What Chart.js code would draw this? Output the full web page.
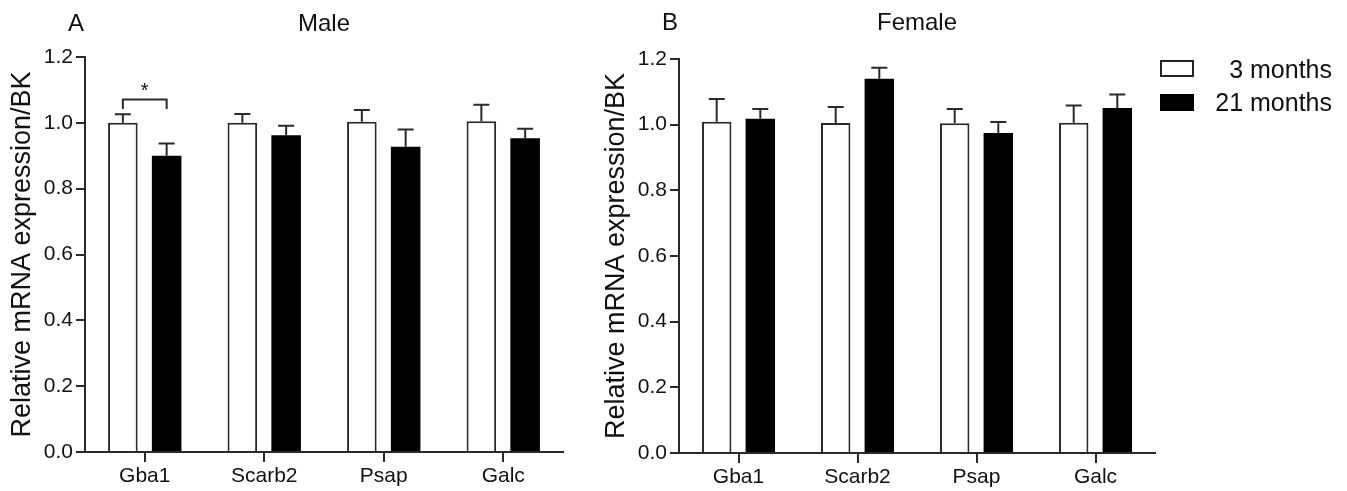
<!DOCTYPE html>
<html>
<head>
<meta charset="utf-8">
<script src="https://cdn.jsdelivr.net/npm/chart.js@4.4.1/dist/chart.umd.min.js"></script>
<style>
  body { margin: 0; background: #fff; width: 1347px; height: 491px; overflow: hidden; position: relative;
         font-family: Arial, "Liberation Sans", sans-serif; color: #111; }
  canvas { position: absolute; top: 0; }
  #maleChart { left: 0; }
  #femaleChart { left: 594px; }
  .swatch { position: absolute; left: 1160px; width: 34px; height: 17px; box-sizing: border-box; border: 2px solid #222; }
  .swatch.open { top: 60px; background: #fff; }
  .swatch.filled { top: 94px; background: #000; border-color: #000; }
  .lbl { position: absolute; right: 15px; font-size: 25px; line-height: 28px; text-align: right; white-space: nowrap; }
</style>
</head>
<body>
<canvas id="maleChart" width="575" height="491"></canvas>
<canvas id="femaleChart" width="575" height="491"></canvas>

<div class="swatch open"></div>
<div class="lbl" style="top:55px">3 months</div>
<div class="swatch filled"></div>
<div class="lbl" style="top:88px">21 months</div>

<script>
const genes = ['Gba1', 'Scarb2', 'Psap', 'Galc'];
const seriesNames = ['3 months', '21 months'];

// mean and SEM per gene
const maleYoung = [1.000, 1.000, 1.003, 1.005];
const maleYoungSem = [0.026, 0.027, 0.036, 0.050];
const maleOld = [0.900, 0.962, 0.927, 0.953];
const maleOldSem = [0.037, 0.029, 0.053, 0.029];

const femaleYoung = [1.009, 1.005, 1.004, 1.006];
const femaleYoungSem = [0.069, 0.049, 0.044, 0.052];
const femaleOld = [1.018, 1.140, 0.975, 1.051];
const femaleOldSem = [0.030, 0.033, 0.033, 0.041];

const yMin = 0, yMax = 1.2, yStep = 0.2;

const INK = '#2a2a2a';
Chart.defaults.font.family = 'Arial, "Liberation Sans", sans-serif';
Chart.defaults.color = '#111';

// upper error bars with caps
const errorBars = {
  id: 'errorBars',
  afterDatasetsDraw(chart) {
    const { ctx } = chart;
    const y = chart.scales.y;
    ctx.save();
    ctx.strokeStyle = INK;
    ctx.lineWidth = 2;
    chart.data.datasets.forEach((ds, di) => {
      chart.getDatasetMeta(di).data.forEach((bar, i) => {
        const top = y.getPixelForValue(ds.data[i] + ds.sem[i]);
        ctx.beginPath();
        ctx.moveTo(bar.x, bar.y);
        ctx.lineTo(bar.x, top);
        ctx.moveTo(bar.x - 8, top);
        ctx.lineTo(bar.x + 8, top);
        ctx.stroke();
      });
    });
    ctx.restore();
  }
};

// significance bracket between the two bars of one gene
const sigBracket = {
  id: 'sigBracket',
  afterDatasetsDraw(chart, args, opts) {
    if (opts.index == null) return;
    const { ctx } = chart;
    const y = chart.scales.y;
    const x1 = chart.getDatasetMeta(0).data[opts.index].x;
    const x2 = chart.getDatasetMeta(1).data[opts.index].x;
    const yTop = y.getPixelForValue(opts.level);
    const yEnd = y.getPixelForValue(opts.level - opts.drop);
    ctx.save();
    ctx.strokeStyle = INK;
    ctx.lineWidth = 2;
    ctx.beginPath();
    ctx.moveTo(x1, yEnd); ctx.lineTo(x1, yTop); ctx.lineTo(x2, yTop); ctx.lineTo(x2, yEnd);
    ctx.stroke();
    ctx.fillStyle = '#111';
    ctx.font = '20px Arial, "Liberation Sans", sans-serif';
    ctx.textAlign = 'center';
    ctx.textBaseline = 'middle';
    ctx.fillText(opts.label, (x1 + x2) / 2, yTop - 8);
    ctx.restore();
  }
};

// panel letter and title above the plot
const panelTitle = {
  id: 'panelTitle',
  afterDraw(chart, args, opts) {
    const { ctx, chartArea } = chart;
    ctx.save();
    ctx.fillStyle = '#111';
    ctx.textBaseline = 'middle';
    ctx.font = '24px Arial, "Liberation Sans", sans-serif';
    ctx.textAlign = 'center';
    ctx.fillText(opts.letter, chartArea.left - 9, opts.y);
    ctx.fillText(opts.text, (chartArea.left + chartArea.right) / 2, opts.y);
    ctx.restore();
  }
};

function makeChart(id, young, youngSem, old, oldSem, p) {
  return new Chart(document.getElementById(id), {
    type: 'bar',
    data: {
      labels: genes,
      datasets: [
        { label: seriesNames[0], data: young, sem: youngSem,
          backgroundColor: '#fff', borderColor: INK, borderWidth: 2 },
        { label: seriesNames[1], data: old, sem: oldSem,
          backgroundColor: '#000', borderColor: '#000', borderWidth: 0 }
      ]
    },
    options: {
      responsive: false,
      animation: false,
      layout: { padding: { top: p.top, right: p.right, left: 0, bottom: 0 } },
      datasets: { bar: { categoryPercentage: 0.733, barPercentage: 0.675, borderSkipped: 'bottom' } },
      scales: {
        x: {
          grid: { offset: false, drawOnChartArea: false, tickLength: 10, color: INK, lineWidth: 2 },
          border: { color: INK, width: 2 },
          ticks: { font: { size: 21 }, padding: 2, color: '#111' },
          afterFit: s => { s.height = p.bottom; }
        },
        y: {
          min: yMin, max: yMax,
          grid: { drawOnChartArea: false, tickLength: 9, color: INK, lineWidth: 2 },
          border: { color: INK, width: 2 },
          ticks: { stepSize: yStep, font: { size: 21 }, padding: 3, color: '#111',
                   callback: v => v.toFixed(1) },
          title: { display: true, text: 'Relative mRNA expression/BK', font: { size: 27 },
                   color: '#111', padding: { top: 6, bottom: 0 } },
          afterFit: s => { s.width = 85; }
        }
      },
      plugins: {
        legend: { display: false },
        tooltip: { enabled: false },
        panelTitle: { letter: p.letter, text: p.title, y: p.titleY },
        sigBracket: p.sig || {}
      }
    },
    plugins: [errorBars, sigBracket, panelTitle]
  });
}

makeChart('maleChart', maleYoung, maleYoungSem, maleOld, maleOldSem,
  { top: 57, right: 12, bottom: 39, letter: 'A', title: 'Male', titleY: 24,
    sig: { index: 0, level: 1.071, drop: 0.029, label: '*' } });

makeChart('femaleChart', femaleYoung, femaleYoungSem, femaleOld, femaleOldSem,
  { top: 59, right: 14, bottom: 38, letter: 'B', title: 'Female', titleY: 23 });
</script>
</body>
</html>
